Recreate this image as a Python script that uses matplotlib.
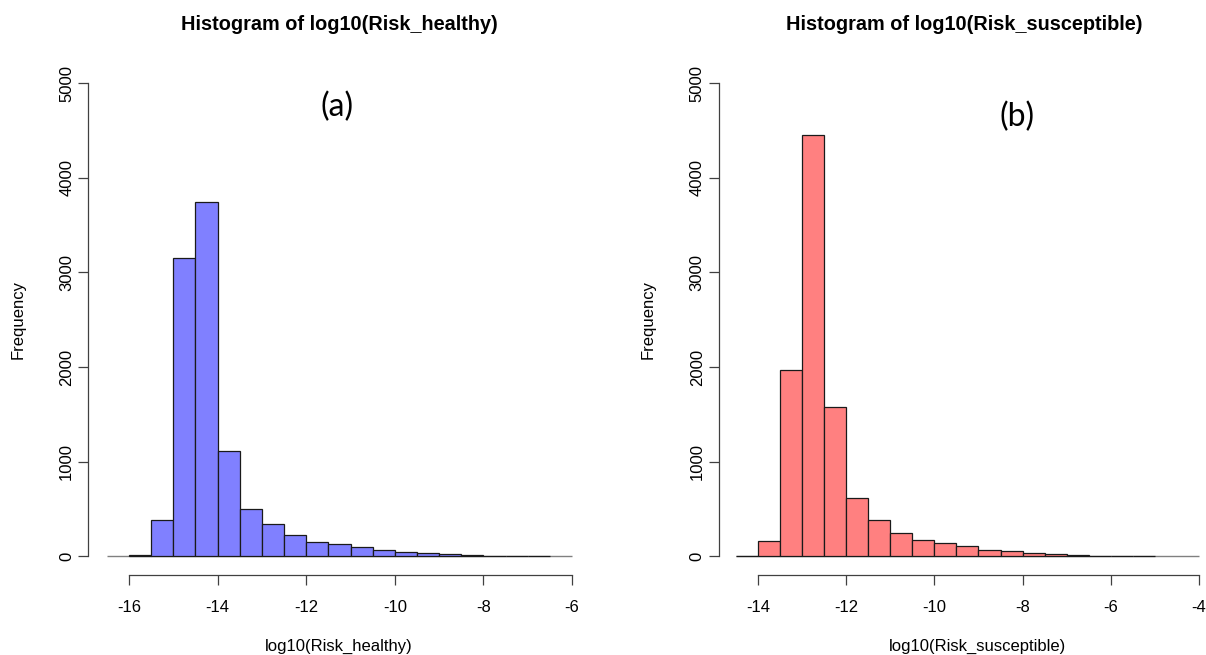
import matplotlib
matplotlib.use("Agg")
import matplotlib.pyplot as plt
import numpy as np

plt.rcParams['font.family'] = ['Liberation Sans', 'DejaVu Sans']

# ---- data ----
healthy_bin_left = [-16.0, -15.5, -15.0, -14.5, -14.0, -13.5, -13.0, -12.5, -12.0, -11.5,
                    -11.0, -10.5, -10.0, -9.5, -9.0, -8.5, -8.0, -7.5, -7.0]
healthy_counts = [18, 388, 3154, 3742, 1117, 501, 342, 222, 152, 134,
                  99, 63, 46, 36, 28, 10, 6, 4, 3]

suscept_bin_left = [-14.5, -14.0, -13.5, -13.0, -12.5, -12.0, -11.5, -11.0, -10.5, -10.0,
                    -9.5, -9.0, -8.5, -8.0, -7.5, -7.0, -6.5, -6.0, -5.5]
suscept_counts = [8, 159, 1966, 4455, 1582, 617, 381, 243, 173, 145,
                  110, 68, 53, 36, 25, 18, 6, 4, 2]
bin_width = 0.5

healthy_xticks = [-16, -14, -12, -10, -8, -6]
suscept_xticks = [-14, -12, -10, -8, -6, -4]
yticks = [0, 1000, 2000, 3000, 4000, 5000]

W, H = 1206, 655
fig = plt.figure(figsize=(W / 100, H / 100), dpi=100)


def axes_px(x0, x1, ytop, ybot):
    return fig.add_axes([x0 / W, 1 - ybot / H, (x1 - x0) / W, (ybot - ytop) / H])


def make_panel(x0, x1, xlim, bins, counts, color, xticks, spine_x, line_range,
               title, xlabel, title_x, xlabel_x, freq_x, tag, tag_x, tag_y):
    ax = axes_px(x0, x1, 64.1, 575.2)
    ax.set_xlim(*xlim)
    ax.set_ylim(-200, 5200)
    ax.hlines(0, line_range[0], line_range[1], color='#808080', lw=1.0, zorder=1)
    ax.bar(bins, counts, width=bin_width, align='edge', color=color,
           edgecolor='#1a1a1a', linewidth=0.9, zorder=2)
    for s in ['top', 'right']:
        ax.spines[s].set_visible(False)
    ax.spines['left'].set_position(('data', spine_x))
    ax.spines['left'].set_bounds(0, 5000)
    ax.spines['bottom'].set_bounds(xticks[0], xticks[-1])
    for s in ['left', 'bottom']:
        ax.spines[s].set_color('#404040')
        ax.spines[s].set_linewidth(0.9)
    ax.set_xticks(xticks)
    ax.set_xticklabels([str(t) for t in xticks])
    ax.set_yticks(yticks)
    ax.set_yticklabels([str(t) for t in yticks], rotation=90, va='center')
    ax.tick_params(axis='both', length=7, width=0.9, color='#404040',
                   labelsize=12, labelcolor='black')
    ax.tick_params(axis='x', pad=10.5)
    ax.tick_params(axis='y', pad=3)
    fig.text(title_x / W, 1 - 25 / H, title, ha='center', va='center',
             fontsize=14.3, fontweight='bold')
    fig.text(xlabel_x / W, 1 - 646 / H, xlabel, ha='center', va='center', fontsize=12)
    fig.text(freq_x / W, 1 - 320 / H, 'Frequency', ha='center', va='center',
             rotation=90, fontsize=12)
    fig.text(tag_x / W, 1 - tag_y / H, tag, ha='center', va='center',
             fontsize=23, family=['Lato', 'DejaVu Sans'])
    return ax


make_panel(84.7, 594.2, (-17.0, -5.5), healthy_bin_left, healthy_counts, '#8080FF',
           healthy_xticks, -16.925, (-16.5, -6.0),
           'Histogram of log10(Risk_healthy)', 'log10(Risk_healthy)',
           339, 339, 18, '(a)', 337, 107)

make_panel(713.9, 1203.4, (-15.0, -3.9), suscept_bin_left, suscept_counts, '#FF8080',
           suscept_xticks, -14.893, (-14.5, -4.0),
           'Histogram of log10(Risk_susceptible)', 'log10(Risk_susceptible)',
           964, 978, 648, '(b)', 1017, 117)

fig.savefig('out.png', dpi=100)
